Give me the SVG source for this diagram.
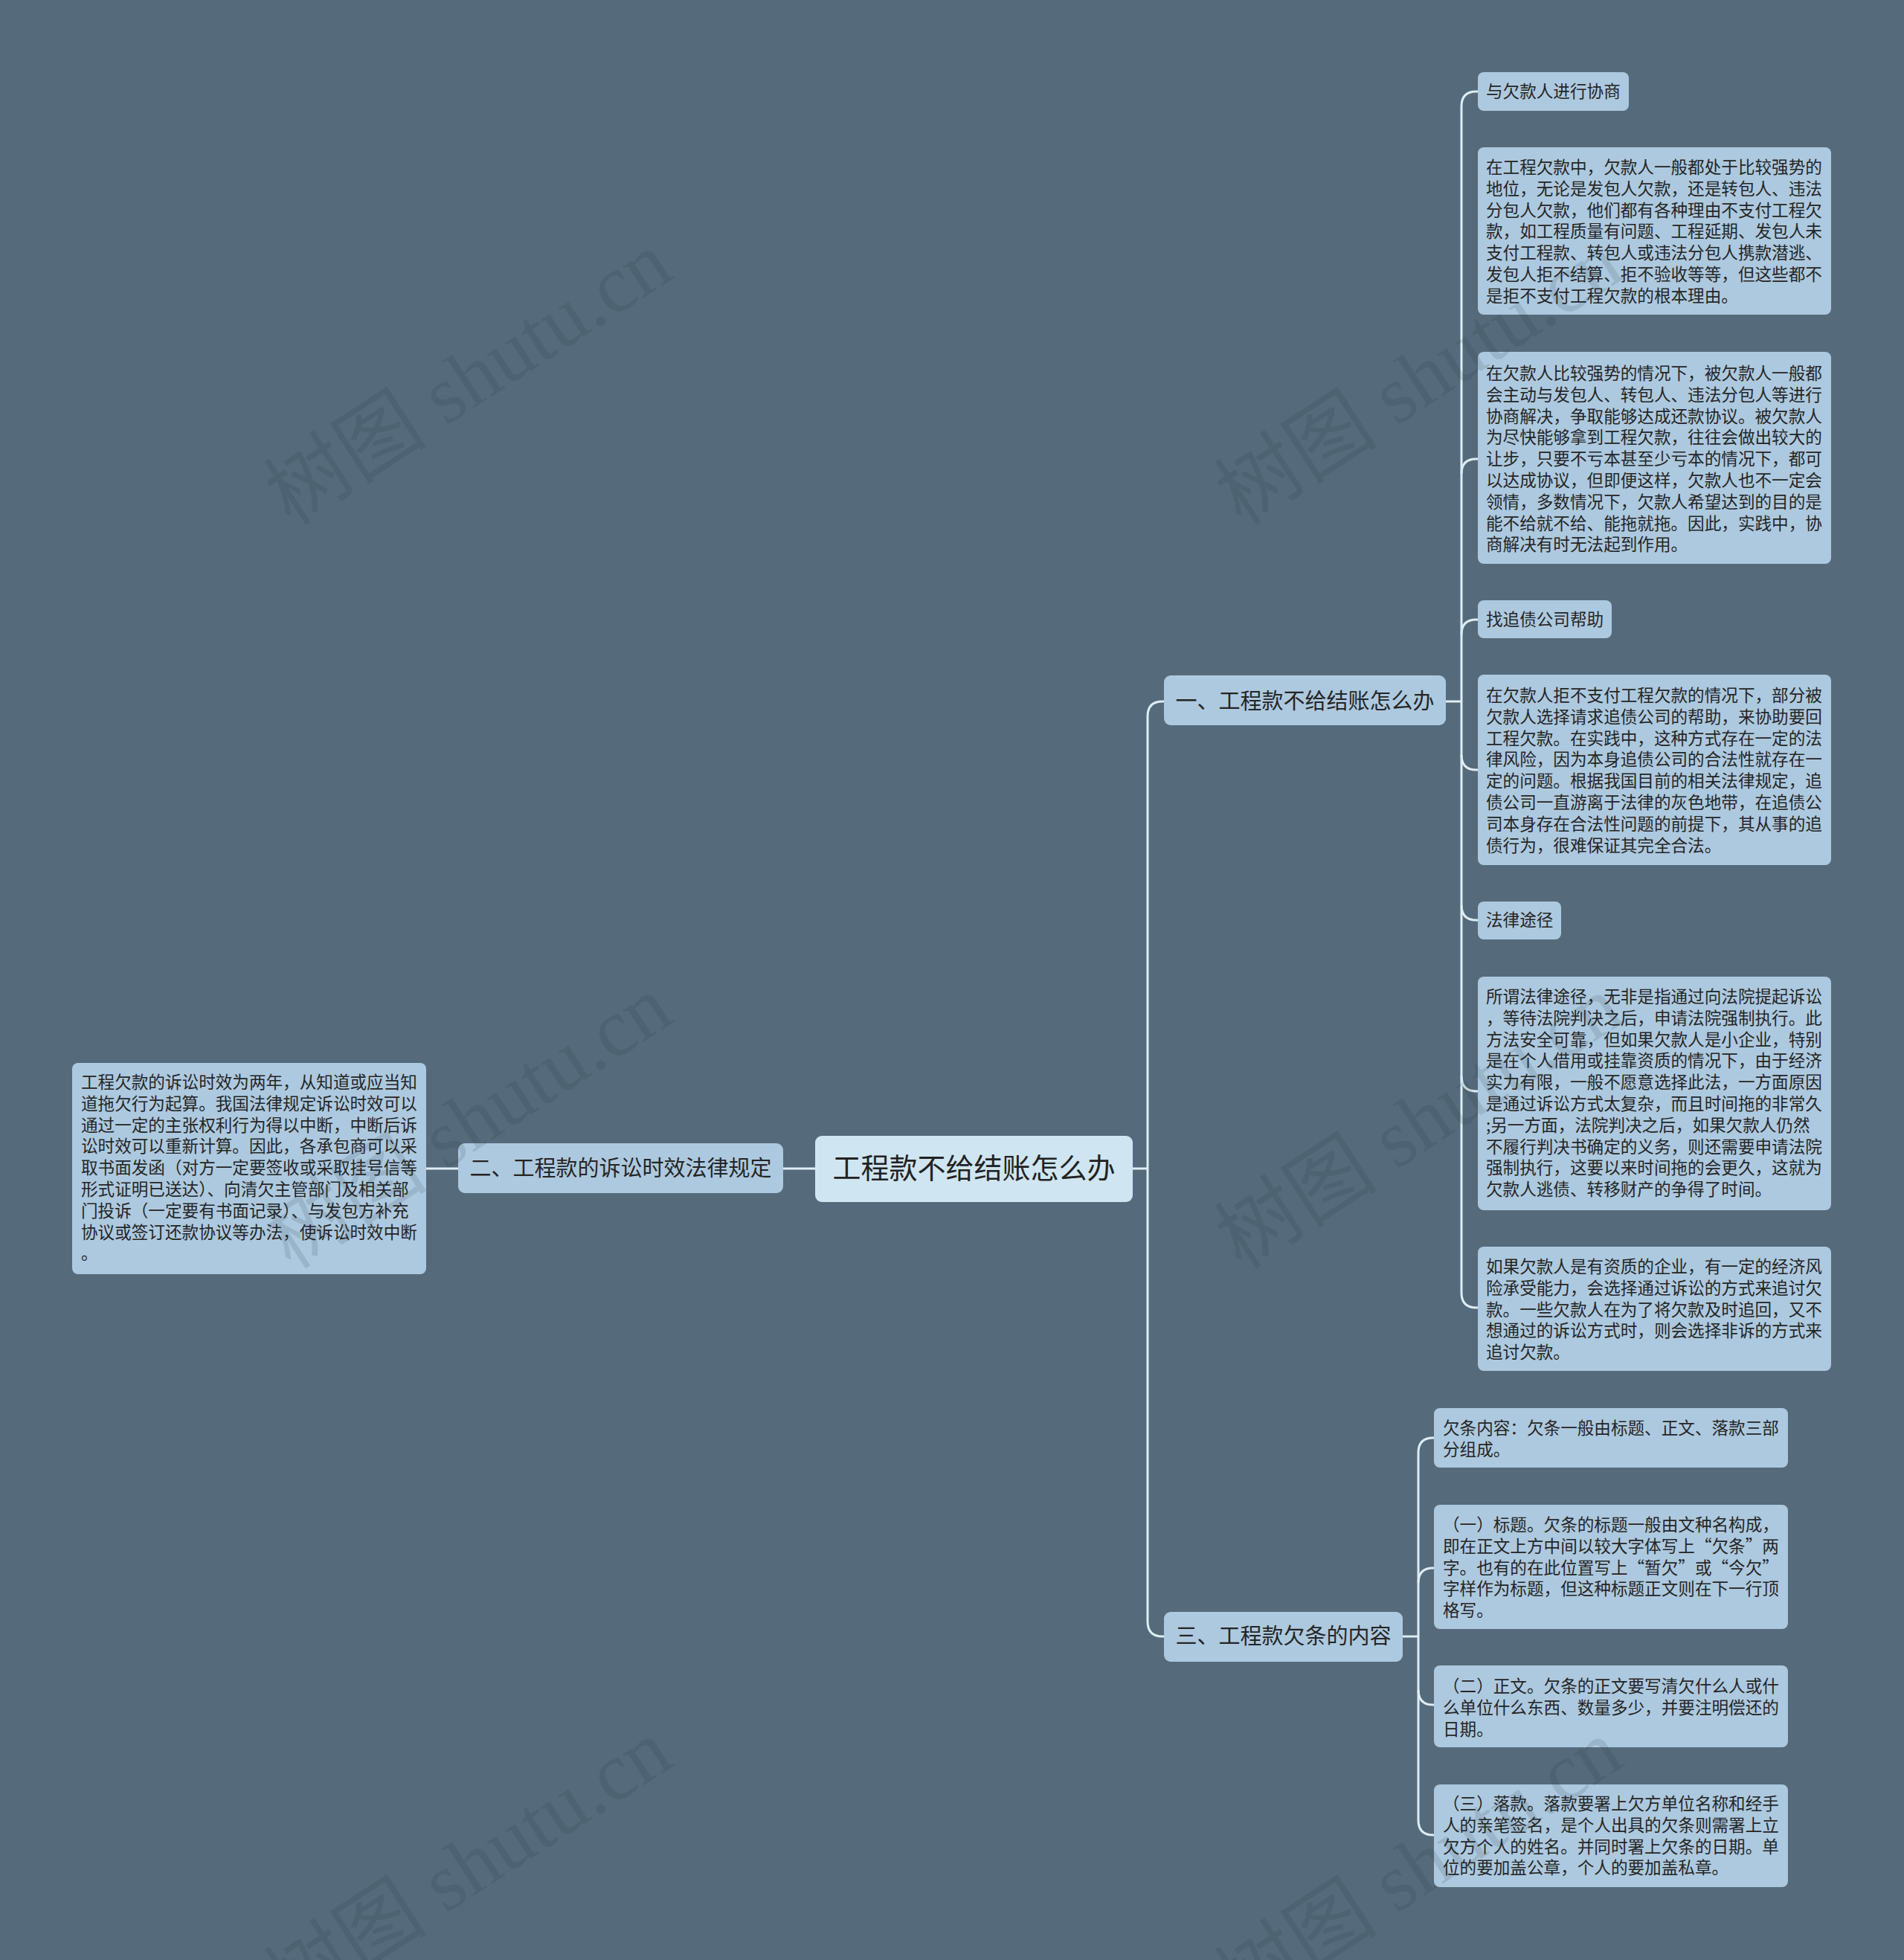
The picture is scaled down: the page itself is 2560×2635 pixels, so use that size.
<svg xmlns="http://www.w3.org/2000/svg" width="2560" height="2635" viewBox="0 0 2560 2635">
<style>
.n rect{fill:#adc9df}
.r rect{fill:#cfe5f1}
.t{font-family:"Noto Sans CJK SC","Noto Sans",sans-serif;font-size:22.6px;fill:#252525}
.l1{font-family:"Noto Sans CJK SC","Noto Sans",sans-serif;font-size:29px;fill:#252525;text-anchor:middle}
.rt{font-family:"Noto Sans CJK SC","Noto Sans",sans-serif;font-size:38px;fill:#222;text-anchor:middle}
.lk{fill:none;stroke:#deedf6;stroke-width:3}
.wm{font-family:"Liberation Serif","Noto Sans CJK SC",serif;font-size:110px;fill:#1e2d38;fill-opacity:0.13;text-anchor:middle}
</style>
<rect x="0" y="0" width="2560" height="2635" fill="#556b7b"/>
<g id="connectors" class="lk">
<path d="M1096,1571 H1053"/>
<path d="M616,1571 H573"/>
<path d="M1523,1571 H1543"/>
<path d="M1565,943 H1563 Q1543,943 1543,963 V2180 Q1543,2200 1563,2200 H1565"/>
<path d="M1944,943 H1965"/>
<path d="M1987,123 H1985 Q1965,123 1965,143 V1738 Q1965,1758 1985,1758 H1987"/>
<path d="M1965,637 Q1965,617 1985,617 H1987"/>
<path d="M1965,853 Q1965,833 1985,833 H1987"/>
<path d="M1965,1015 Q1965,1035 1985,1035 H1987"/>
<path d="M1965,1217 Q1965,1237 1985,1237 H1987"/>
<path d="M1965,1447 Q1965,1467 1985,1467 H1987"/>
<path d="M1886,2200 H1907"/>
<path d="M1928,1933 H1927 Q1907,1933 1907,1953 V2447 Q1907,2467 1927,2467 H1928"/>
<path d="M1907,2128 Q1907,2108 1927,2108 H1928"/>
<path d="M1907,2272 Q1907,2292 1927,2292 H1928"/>
</g>
<g id="root" class="r">
<rect x="1096" y="1527" width="427" height="89" rx="9"/>
<text class="rt" x="1309.5" y="1584">工程款不给结账怎么办</text>
</g>
<g id="b1" class="n">
<rect x="1565" y="908" width="379" height="67" rx="9"/>
<text class="l1" x="1754.5" y="953">一、工程款不给结账怎么办</text>
</g>
<g id="b2" class="n">
<rect x="616" y="1537" width="437" height="67" rx="9"/>
<text class="l1" x="834.5" y="1581">二、工程款的诉讼时效法律规定</text>
</g>
<g id="b3" class="n">
<rect x="1565" y="2167" width="321" height="67" rx="9"/>
<text class="l1" x="1725.5" y="2210">三、工程款欠条的内容</text>
</g>
<g id="c1" class="n">
<rect x="1987" y="97" width="203" height="52" rx="8"/>
<text class="t" x="1998" y="131">与欠款人进行协商</text>
</g>
<g id="c2" class="n">
<rect x="1987" y="198" width="475" height="225" rx="8"/>
<text class="t" y="204.2"><tspan x="1998" dy="28.8">在工程欠款中，欠款人一般都处于比较强势的</tspan><tspan x="1998" dy="28.8">地位，无论是发包人欠款，还是转包人、违法</tspan><tspan x="1998" dy="28.8">分包人欠款，他们都有各种理由不支付工程欠</tspan><tspan x="1998" dy="28.8">款，如工程质量有问题、工程延期、发包人未</tspan><tspan x="1998" dy="28.8">支付工程款、转包人或违法分包人携款潜逃、</tspan><tspan x="1998" dy="28.8">发包人拒不结算、拒不验收等等，但这些都不</tspan><tspan x="1998" dy="28.8">是拒不支付工程欠款的根本理由。</tspan></text>
</g>
<g id="c3" class="n">
<rect x="1987" y="473" width="475" height="285" rx="8"/>
<text class="t" y="481.2"><tspan x="1998" dy="28.8">在欠款人比较强势的情况下，被欠款人一般都</tspan><tspan x="1998" dy="28.8">会主动与发包人、转包人、违法分包人等进行</tspan><tspan x="1998" dy="28.8">协商解决，争取能够达成还款协议。被欠款人</tspan><tspan x="1998" dy="28.8">为尽快能够拿到工程欠款，往往会做出较大的</tspan><tspan x="1998" dy="28.8">让步，只要不亏本甚至少亏本的情况下，都可</tspan><tspan x="1998" dy="28.8">以达成协议，但即便这样，欠款人也不一定会</tspan><tspan x="1998" dy="28.8">领情，多数情况下，欠款人希望达到的目的是</tspan><tspan x="1998" dy="28.8">能不给就不给、能拖就拖。因此，实践中，协</tspan><tspan x="1998" dy="28.8">商解决有时无法起到作用。</tspan></text>
</g>
<g id="c4" class="n">
<rect x="1987" y="807" width="180" height="51" rx="8"/>
<text class="t" x="1998" y="841">找追债公司帮助</text>
</g>
<g id="c5" class="n">
<rect x="1987" y="907" width="475" height="256" rx="8"/>
<text class="t" y="914.2"><tspan x="1998" dy="28.8">在欠款人拒不支付工程欠款的情况下，部分被</tspan><tspan x="1998" dy="28.8">欠款人选择请求追债公司的帮助，来协助要回</tspan><tspan x="1998" dy="28.8">工程欠款。在实践中，这种方式存在一定的法</tspan><tspan x="1998" dy="28.8">律风险，因为本身追债公司的合法性就存在一</tspan><tspan x="1998" dy="28.8">定的问题。根据我国目前的相关法律规定，追</tspan><tspan x="1998" dy="28.8">债公司一直游离于法律的灰色地带，在追债公</tspan><tspan x="1998" dy="28.8">司本身存在合法性问题的前提下，其从事的追</tspan><tspan x="1998" dy="28.8">债行为，很难保证其完全合法。</tspan></text>
</g>
<g id="c6" class="n">
<rect x="1987" y="1212" width="112" height="51" rx="8"/>
<text class="t" x="1998" y="1245">法律途径</text>
</g>
<g id="c7" class="n">
<rect x="1987" y="1313" width="475" height="314" rx="8"/>
<text class="t" y="1319.2"><tspan x="1998" dy="28.8">所谓法律途径，无非是指通过向法院提起诉讼</tspan><tspan x="1998" dy="28.8">，等待法院判决之后，申请法院强制执行。此</tspan><tspan x="1998" dy="28.8">方法安全可靠，但如果欠款人是小企业，特别</tspan><tspan x="1998" dy="28.8">是在个人借用或挂靠资质的情况下，由于经济</tspan><tspan x="1998" dy="28.8">实力有限，一般不愿意选择此法，一方面原因</tspan><tspan x="1998" dy="28.8">是通过诉讼方式太复杂，而且时间拖的非常久</tspan><tspan x="1998" dy="28.8">;另一方面，法院判决之后，如果欠款人仍然</tspan><tspan x="1998" dy="28.8">不履行判决书确定的义务，则还需要申请法院</tspan><tspan x="1998" dy="28.8">强制执行，这要以来时间拖的会更久，这就为</tspan><tspan x="1998" dy="28.8">欠款人逃债、转移财产的争得了时间。</tspan></text>
</g>
<g id="c8" class="n">
<rect x="1987" y="1676" width="475" height="167" rx="8"/>
<text class="t" y="1682.2"><tspan x="1998" dy="28.8">如果欠款人是有资质的企业，有一定的经济风</tspan><tspan x="1998" dy="28.8">险承受能力，会选择通过诉讼的方式来追讨欠</tspan><tspan x="1998" dy="28.8">款。一些欠款人在为了将欠款及时追回，又不</tspan><tspan x="1998" dy="28.8">想通过的诉讼方式时，则会选择非诉的方式来</tspan><tspan x="1998" dy="28.8">追讨欠款。</tspan></text>
</g>
<g id="d1" class="n">
<rect x="97" y="1429" width="476" height="284" rx="8"/>
<text class="t" y="1434.2"><tspan x="109" dy="28.8">工程欠款的诉讼时效为两年，从知道或应当知</tspan><tspan x="109" dy="28.8">道拖欠行为起算。我国法律规定诉讼时效可以</tspan><tspan x="109" dy="28.8">通过一定的主张权利行为得以中断，中断后诉</tspan><tspan x="109" dy="28.8">讼时效可以重新计算。因此，各承包商可以采</tspan><tspan x="109" dy="28.8">取书面发函（对方一定要签收或采取挂号信等</tspan><tspan x="109" dy="28.8">形式证明已送达）、向清欠主管部门及相关部</tspan><tspan x="109" dy="28.8">门投诉（一定要有书面记录）、与发包方补充</tspan><tspan x="109" dy="28.8">协议或签订还款协议等办法，使诉讼时效中断</tspan><tspan x="109" dy="28.8">。</tspan></text>
</g>
<g id="e1" class="n">
<rect x="1928" y="1893" width="476" height="80" rx="8"/>
<text class="t" y="1899.2"><tspan x="1940" dy="28.8">欠条内容：欠条一般由标题、正文、落款三部</tspan><tspan x="1940" dy="28.8">分组成。</tspan></text>
</g>
<g id="e2" class="n">
<rect x="1928" y="2023" width="476" height="167" rx="8"/>
<text class="t" y="2029.2"><tspan x="1940" dy="28.8">（一）标题。欠条的标题一般由文种名构成，</tspan><tspan x="1940" dy="28.8">即在正文上方中间以较大字体写上“欠条”两</tspan><tspan x="1940" dy="28.8">字。也有的在此位置写上“暂欠”或“今欠”</tspan><tspan x="1940" dy="28.8">字样作为标题，但这种标题正文则在下一行顶</tspan><tspan x="1940" dy="28.8">格写。</tspan></text>
</g>
<g id="e3" class="n">
<rect x="1928" y="2239" width="476" height="110" rx="8"/>
<text class="t" y="2246.2"><tspan x="1940" dy="28.8">（二）正文。欠条的正文要写清欠什么人或什</tspan><tspan x="1940" dy="28.8">么单位什么东西、数量多少，并要注明偿还的</tspan><tspan x="1940" dy="28.8">日期。</tspan></text>
</g>
<g id="e4" class="n">
<rect x="1928" y="2399" width="476" height="138" rx="8"/>
<text class="t" y="2404.2"><tspan x="1940" dy="28.8">（三）落款。落款要署上欠方单位名称和经手</tspan><tspan x="1940" dy="28.8">人的亲笔签名，是个人出具的欠条则需署上立</tspan><tspan x="1940" dy="28.8">欠方个人的姓名。并同时署上欠条的日期。单</tspan><tspan x="1940" dy="28.8">位的要加盖公章，个人的要加盖私章。</tspan></text>
</g>
<g id="watermark" class="wm">
<text transform="translate(650,540) rotate(-33)">树图 shutu.cn</text>
<text transform="translate(1928,540) rotate(-33)">树图 shutu.cn</text>
<text transform="translate(650,1540) rotate(-33)">树图 shutu.cn</text>
<text transform="translate(1928,1540) rotate(-33)">树图 shutu.cn</text>
<text transform="translate(650,2540) rotate(-33)">树图 shutu.cn</text>
<text transform="translate(1928,2540) rotate(-33)">树图 shutu.cn</text>
</g>
</svg>
